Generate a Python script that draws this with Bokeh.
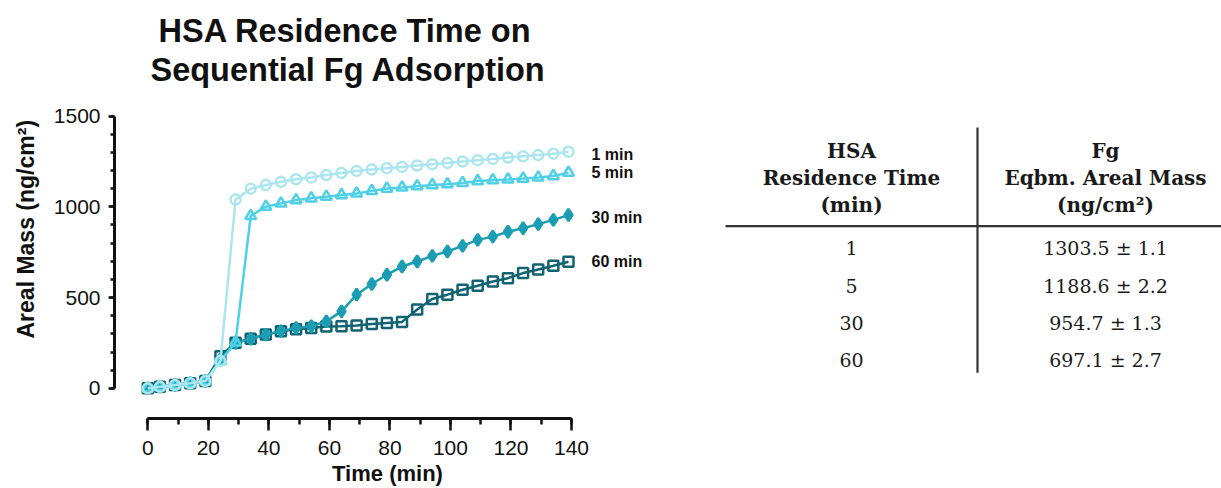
from bokeh.plotting import figure
from bokeh.models import Range1d, Title, FixedTicker
from bokeh.layouts import row
from bokeh.embed import file_html
from bokeh.resources import INLINE
from bokeh.core.properties import value

# ---------------- data ----------------
time_min = [0, 4, 9, 14, 19, 24, 29, 34, 39, 44, 49, 54, 59, 64, 69,
            74, 79, 84, 89, 94, 99, 104, 109, 114, 119, 124, 129, 134, 139]

mass_1min = [0, 8, 18, 28, 40, 150, 1040, 1100, 1120, 1138, 1152, 1162, 1175, 1187, 1198,
             1206, 1213, 1220, 1228, 1235, 1242, 1250, 1257, 1264, 1272, 1279, 1285, 1293, 1303.5]
mass_5min = [0, 8, 18, 28, 40, 150, 254, 950, 1001, 1019, 1037, 1047, 1056, 1065, 1074,
             1088, 1101, 1107, 1114, 1120, 1125, 1132, 1142, 1147, 1151, 1156, 1162, 1170, 1188.6]
mass_30min = [0, 8, 18, 28, 40, 160, 250, 273, 296, 315, 333, 342, 369, 424, 516,
              575, 626, 671, 699, 730, 754, 785, 818, 836, 863, 882, 905, 928, 954.7]
mass_60min = [0, 8, 18, 28, 40, 177, 251, 273, 296, 315, 325, 333, 340, 342, 346,
              355, 360, 366, 434, 492, 516, 543, 565, 589, 607, 635, 655, 675, 697.1]

series_labels = ["1 min", "5 min", "30 min", "60 min"]

y_ticks = [0, 500, 1000, 1500]
x_ticks = [0, 20, 40, 60, 80, 100, 120, 140]

table_residence = ["1", "5", "30", "60"]
table_eqbm = ["1303.5 \u00b1 1.1", "1188.6 \u00b1 2.2", "954.7 \u00b1 1.3", "697.1 \u00b1 2.7"]
table_head_1 = ["HSA", "Residence Time", "(min)"]
table_head_2 = ["Fg", "Eqbm. Areal Mass", "(ng/cm\u00b2)"]

# ---------------- styles ----------------
colors = ["#abe6f0", "#4fd0e6", "#1b9db3", "#0f6372"]
markers = ["circle", "triangle", "diamond", "square"]
msizes = [10, 11, 12, 10]
fills = [0, 0, 1, 0]
FONT = "Liberation Sans"
W1, H = 712, 488

p = figure(width=W1, height=H, output_backend="svg", toolbar_location=None,
           x_range=Range1d(-11, 169.4), y_range=Range1d(-166.3, 1586),
           min_border_left=114, min_border_right=52, min_border_top=100,
           min_border_bottom=69)
p.outline_line_color = None
p.xgrid.visible = False
p.ygrid.visible = False

# titles (first added is closest to the frame); the first is an invisible spacer
p.add_layout(Title(text=" ", text_font_size="1px", standoff=9), "above")
p.add_layout(Title(text="Sequential Fg Adsorption", align="left", offset=36,
                   text_font=FONT, text_font_size="32.5px", text_font_style="bold",
                   standoff=2, text_color="#111111"), "above")
p.add_layout(Title(text="HSA Residence Time on", align="left", offset=44,
                   text_font=FONT, text_font_size="32.5px", text_font_style="bold",
                   standoff=0, text_color="#111111"), "above")

all_series = [mass_1min, mass_5min, mass_30min, mass_60min]
for i in [3, 2, 1, 0]:
    ys = all_series[i]
    p.line(time_min, ys, line_color=colors[i], line_width=2.5)
    p.scatter(time_min, ys, marker=markers[i], size=msizes[i], line_color=colors[i],
              line_width=2.5, fill_color=colors[i], fill_alpha=fills[i])

p.text(x=[time_min[-1]] * 4, y=[s[-1] for s in all_series], text=series_labels,
       x_offset=23, y_offset=[3, 0, 2, 0], text_baseline="middle", text_align="left",
       text_font=value(FONT), text_font_style="bold", text_font_size="16px",
       text_color="#111111")

# axes
p.xaxis.bounds = (0, 140)
p.xaxis.ticker = FixedTicker(ticks=x_ticks, minor_ticks=list(range(0, 141, 10)))
p.yaxis.bounds = (0, 1500)
p.yaxis.ticker = FixedTicker(ticks=y_ticks, minor_ticks=list(range(0, 1501, 100)))

for ax in (p.xaxis[0], p.yaxis[0]):
    ax.axis_line_width = 3
    ax.axis_line_color = "#111111"
    ax.major_tick_line_width = 2.5
    ax.minor_tick_line_width = 2.5
    ax.major_tick_line_color = "#111111"
    ax.minor_tick_line_color = "#111111"
    ax.major_tick_in = 0
    ax.minor_tick_in = 0
    ax.major_label_text_font = FONT
    ax.major_label_text_font_size = "21px"
    ax.major_label_text_color = "#111111"
    ax.axis_label_text_font = FONT
    ax.axis_label_text_font_size = "22px"
    ax.axis_label_text_font_style = "bold"
    ax.axis_label_text_color = "#111111"

p.xaxis.axis_label = "Time (min)"
p.xaxis.major_tick_out = 12
p.xaxis.minor_tick_out = 6
p.xaxis.major_label_standoff = 10
p.xaxis.axis_label_standoff = 3

p.yaxis.major_tick_out = 6
p.yaxis.minor_tick_out = 4
p.yaxis.major_label_standoff = 8

# y-axis title placed as a side title so it can sit where the original has it
p.add_layout(Title(text="Areal Mass (ng/cm\u00b2)", align="left", offset=80,
                   vertical_align="top",
                   text_font=FONT, text_font_size="23px", text_font_style="bold",
                   standoff=20, text_color="#111111"), "left")

# ---------------- table ----------------
t = figure(width=1221 - W1, height=H, output_backend="svg", toolbar_location=None,
           x_range=Range1d(W1, 1221), y_range=Range1d(419, 100),
           min_border_left=0, min_border_right=0, min_border_top=100, min_border_bottom=69)
t.axis.visible = False
t.xgrid.visible = False
t.ygrid.visible = False
t.outline_line_color = None

SERIF = "DejaVu Serif"
col1_x, col2_x = 851, 1105
head_y = [151, 178, 205]
row_y = [248, 286, 323, 360]

t.text(x=[col1_x] * 3, y=head_y, text=table_head_1, text_align="center",
       text_baseline="middle", text_font=value(SERIF), text_font_style="bold",
       text_font_size="20px", text_color="#1a1a1a")
t.text(x=[col2_x] * 3, y=head_y, text=table_head_2, text_align="center",
       text_baseline="middle", text_font=value(SERIF), text_font_style="bold",
       text_font_size="20px", text_color="#1a1a1a")
t.text(x=[col1_x] * 4, y=row_y, text=table_residence, text_align="center",
       text_baseline="middle", text_font=value(SERIF), text_font_size="19px",
       text_color="#1a1a1a")
t.text(x=[col2_x] * 4, y=row_y, text=table_eqbm, text_align="center",
       text_baseline="middle", text_font=value(SERIF), text_font_size="19px",
       text_color="#1a1a1a")
t.segment(x0=[977, 725], y0=[127, 226], x1=[977, 1221], y1=[373, 226],
          line_color="#333333", line_width=2.2)

layout = row(p, t)
open("out.html", "w").write(file_html(layout, INLINE))
